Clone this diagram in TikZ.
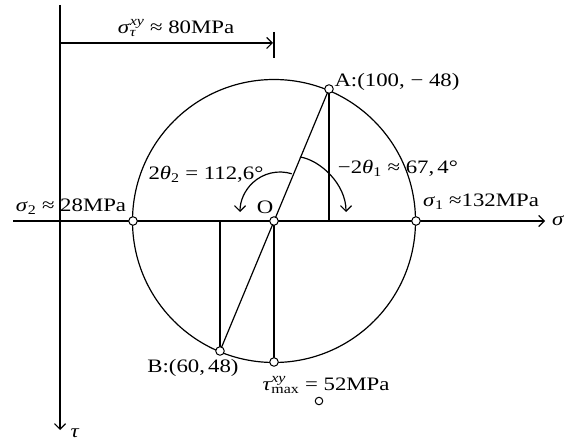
\documentclass[tikz,border=0pt]{standalone}
\usepackage{fontspec}
\usepackage{amsmath}
\setmainfont[FakeStretch=1.2]{Liberation Serif}
\usetikzlibrary{arrows.meta}
\newcommand\gsig{\textit{σ}}
\newcommand\gtau{\textit{τ}}
\newcommand\gth{\textit{θ}}
\newcommand\ssub[1]{\textsubscript{#1}}
\begin{document}
\begin{tikzpicture}[x=1pt,y=-1pt, line width=1.2pt,
  lbl/.style={inner sep=0pt, font=\fontsize{19}{22}\selectfont},
  pt/.style={circle, draw, fill=white, minimum size=8.5pt, inner sep=0pt, line width=1pt},
  arr/.style={-{Straight Barb[length=5.5pt,width=11pt]}}]
\useasboundingbox (0,0) rectangle (566,441);
\coordinate (O) at (274,221);
\coordinate (A) at (329,89);
\coordinate (B) at (220,351);
\coordinate (Aax) at (329,221);
\coordinate (Bax) at (220,221);
\coordinate (Bot) at (274,362);
\coordinate (S2) at (133,221);
\coordinate (S1) at (416,221);
\coordinate (sL) at (13,221);
\coordinate (sR) at (545,221);
\coordinate (tT) at (60,5);
\coordinate (tB) at (60,430);
\coordinate (m1) at (60,43);
\coordinate (m2) at (273,43);
\coordinate (k1) at (274,32);
\coordinate (k2) at (274,58);
\coordinate (r1) at (300,157);
\coordinate (r2) at (346,212);
\coordinate (l1) at (291.7,173.75);
% circle and axes
\draw (O) circle[radius=141.5pt];
\draw[arr] (sL) -- (sR);
\draw[arr] (tT) -- (tB);
\draw[arr] (m1) -- (m2);
\draw (k1) -- (k2);
% construction lines
\draw (A) -- (B);
\draw (A) -- (Aax);
\draw (B) -- (Bax);
\draw (O) -- (Bot);
% angle arcs
\draw[arr] (r1) .. controls (320,160) and (346,184) .. (r2);
\draw[arr] (l1) arc[start angle=73, end angle=180, radius=40pt];
% points
\node[pt] (pO) at (O) {};
\node[pt] (pA) at (A) {};
\node[pt] (pB) at (B) {};
\node[pt] (pS1) at (S1) {};
\node[pt] (pS2) at (S2) {};
\node[pt] (pBot) at (Bot) {};
\node[pt, minimum size=7.5pt] (stray) at (319,401) {};
% labels
\node[lbl] (lTop) at (176,28) {\gsig$^{\text{\itshape xy}}_{\text{\itshape τ}}$ ≈ 80MPa};
\node[lbl] (lA) at (397,82) {A:(100, − 48)};
\node[lbl] (lt1) at (398,168) {−2\gth\ssub{1} ≈ 67,\,4°};
\node[lbl] (lt2) at (206,174) {2\gth\ssub{2} = 112,6°};
\node[lbl] (ls2) at (71,207) {\gsig\ssub{2} ≈ 28MPa};
\node[lbl] (ls1) at (481,202) {\gsig\ssub{1} ≈132MPa};
\node[lbl] (lO) at (265,207) {O};
\node[lbl] (lsig) at (558,221) {\gsig};
\node[lbl] (lB) at (193,368) {B:(60,\,48)};
\node[lbl] (ltm) at (326,385) {\gtau$^{\text{\itshape xy}}_{\text{max}}$ = 52MPa};
\node[lbl] (ltau) at (75,433) {\gtau};
\end{tikzpicture}
\end{document}
